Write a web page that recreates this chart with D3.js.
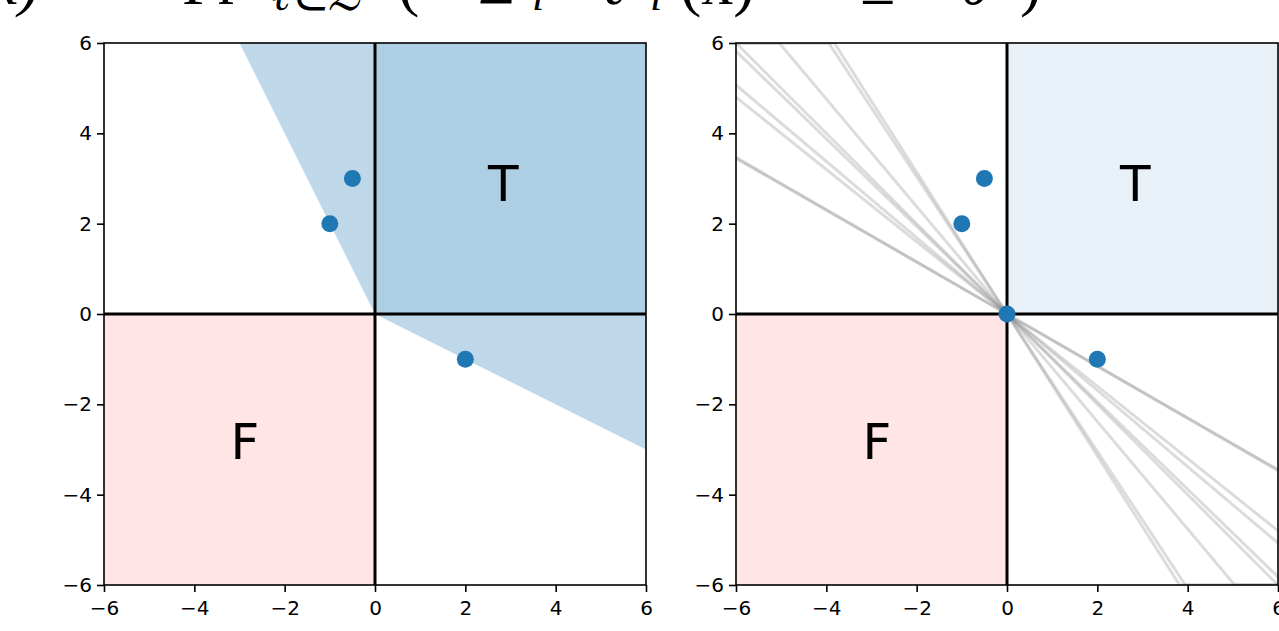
<!DOCTYPE html>
<html><head><meta charset="utf-8">
<script src="https://cdn.jsdelivr.net/npm/d3@7"></script>
<style>body{margin:0;background:#fff;overflow:hidden} svg{display:block;}</style>
</head><body><svg id="c" width="1279" height="631"></svg>
<script>
// ---- data ----
const tickValues = [-6, -4, -2, 0, 2, 4, 6];
const domain = [-6, 6];
const pointsLeft = [[-0.5, 3], [-1, 2], [2, -1]];
const pointsRight = [[-0.5, 3], [-1, 2], [0, 0], [2, -1]];
const regionVertices = [[-3, 6], [0, 0], [6, -3], [6, 6]];
const lineSlopes = [-0.574, -0.578, -0.80, -0.845, -0.97, -1.0, -1.19, -1.52, -1.57];
const quadT = [[0, 0], [6, 6]];
const quadF = [[-6, -6], [0, 0]];
const textLabels = [{t: "T", x: 2.5, y: 2.5}, {t: "F", x: -3.2, y: -3.2}];

const svg = d3.select("#c");
const BLUE = "#1f77b4";

// ---- title (cut off at top, as in the reference) ----
const title = svg.append("g").attr("font-family", "'Liberation Serif', serif").attr("fill", "#000");
const tparts = [
  {s: "x)", x: -10, it: true},
  {s: "= Pr", x: 130, it: false},
  {s: "ℓ∈ℒ", x: 272, it: true, sub: true},
  {s: "(", x: 398, it: false},
  {s: "Σ", x: 478, it: false},
  {s: "i", x: 532, it: true, sub: true},
  {s: "ℓ", x: 600, it: true},
  {s: "i", x: 650, it: true, sub: true},
  {s: "(x)", x: 680, it: false},
  {s: "≥", x: 860, it: false},
  {s: "θ", x: 960, it: true},
  {s: ")", x: 1020, it: false}
];
tparts.forEach(p => {
  title.append("text").attr("x", p.x).attr("y", p.sub ? 10 : 4)
    .attr("font-size", p.sub ? 44 : 64)
    .attr("font-style", p.it ? "italic" : "normal").text(p.s);
});

function panel(x0, right) {
  const x = d3.scaleLinear().domain(domain).range([x0, x0 + 542]);
  const y = d3.scaleLinear().domain(domain).range([585, 43]);
  const g = svg.append("g");
  const clipId = "clip" + x0;
  svg.append("clipPath").attr("id", clipId).append("rect")
    .attr("x", x(-6)).attr("y", y(6)).attr("width", x(6) - x(-6)).attr("height", y(-6) - y(6));
  const plot = g.append("g").attr("clip-path", `url(#${clipId})`);

  if (!right) {
    plot.append("path")
      .attr("d", d3.line().x(d => x(d[0])).y(d => y(d[1]))(regionVertices) + "Z")
      .attr("fill", BLUE).attr("fill-opacity", 0.29);
  }
  plot.append("rect").attr("x", x(quadT[0][0])).attr("y", y(quadT[1][1]))
    .attr("width", x(quadT[1][0]) - x(quadT[0][0])).attr("height", y(quadT[0][1]) - y(quadT[1][1]))
    .attr("fill", BLUE).attr("fill-opacity", 0.1);
  plot.append("rect").attr("x", x(quadF[0][0])).attr("y", y(quadF[1][1]))
    .attr("width", x(quadF[1][0]) - x(quadF[0][0])).attr("height", y(quadF[0][1]) - y(quadF[1][1]))
    .attr("fill", "#ff0000").attr("fill-opacity", 0.1);

  if (right) {
    lineSlopes.forEach(m => {
      const xs = [-6, 6 / m, 0, -6 / m, 6].filter(v => v >= -6 && v <= 6).sort((a, b) => a - b);
      const pts = xs.map(v => [v, Math.max(-6, Math.min(6, m * v))]);
      plot.append("path").attr("d", d3.line().x(d => x(d[0])).y(d => y(d[1]))(pts))
        .attr("fill", "none").attr("stroke", "#808080").attr("stroke-opacity", 0.28).attr("stroke-width", 3);
    });
  }

  // zero lines
  plot.append("line").attr("x1", x(-6)).attr("x2", x(6)).attr("y1", y(0)).attr("y2", y(0))
    .attr("stroke", "#000").attr("stroke-width", 3);
  plot.append("line").attr("x1", x(0)).attr("x2", x(0)).attr("y1", y(-6)).attr("y2", y(6))
    .attr("stroke", "#000").attr("stroke-width", 3);

  textLabels.forEach(l => {
    g.append("text").attr("x", x(l.x)).attr("y", y(l.y)).attr("font-family", "'DejaVu Sans'")
      .attr("font-size", 50).attr("fill", "#000").text(l.t);
  });

  const pts = right ? pointsRight : pointsLeft;
  g.selectAll(null).data(pts).enter().append("circle")
    .attr("cx", d => x(d[0])).attr("cy", d => y(d[1])).attr("r", 8.5).attr("fill", BLUE);

  // axes
  const fmt = d => (d < 0 ? "\u2212" + Math.abs(d) : String(d));
  const ax = g.append("g").attr("transform", `translate(0,${y(-6)})`)
    .call(d3.axisBottom(x).tickValues(tickValues).tickFormat(fmt).tickSize(7).tickPadding(9));
  const ay = g.append("g").attr("transform", `translate(${x(-6)},0)`)
    .call(d3.axisLeft(y).tickValues(tickValues).tickFormat(fmt).tickSize(7).tickPadding(5));
  [ax, ay].forEach(a => {
    a.select(".domain").remove();
    a.selectAll("line").attr("stroke", "#000").attr("stroke-width", 1.6);
    a.selectAll("text").attr("font-family", "'DejaVu Sans'").attr("font-size", 20).attr("fill", "#000");
  });
  g.append("rect").attr("x", x(-6)).attr("y", y(6)).attr("width", x(6) - x(-6)).attr("height", y(-6) - y(6))
    .attr("fill", "none").attr("stroke", "#000").attr("stroke-width", 1.6);
}

panel(104, false);
panel(736, true);
</script></body></html>
